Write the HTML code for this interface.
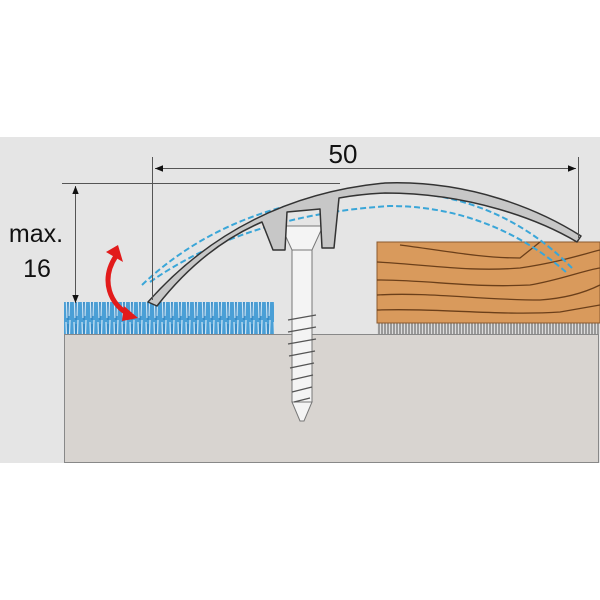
<!DOCTYPE html>
<html><head><style>html,body{margin:0;padding:0;background:#fff}svg{display:block}</style></head>
<body>
<svg width="600" height="600" viewBox="0 0 600 600" xmlns="http://www.w3.org/2000/svg">
<defs>
<pattern id="carpet" width="8" height="32" patternUnits="userSpaceOnUse">
<rect width="8" height="32" fill="#4a9fd6"/>
<path d="M2 2 L3 30 M6 0 L5 28" stroke="#cfe6f5" stroke-width="1.2"/>
<path d="M4 4 L4 32" stroke="#1f6fb0" stroke-width="0.8"/>
</pattern>
<pattern id="under" width="6" height="11" patternUnits="userSpaceOnUse">
<rect width="6" height="11" fill="#ddd"/>
<path d="M1 0 L1 11 M4 0 L4 11" stroke="#555" stroke-width="1"/>
</pattern>
<marker id="ar" viewBox="0 0 10 10" refX="10" refY="5" markerWidth="8" markerHeight="8" orient="auto-start-reverse"><path d="M0 1 L10 5 L0 9Z" fill="#111"/></marker>
</defs>
<rect x="0" y="137" width="600" height="326" fill="#e5e5e5"/>
<rect x="64.5" y="334.5" width="534" height="128" fill="#d8d4d0" stroke="#888" stroke-width="1"/>
<rect x="64" y="302" width="210" height="32" fill="url(#carpet)"/>
<rect x="377" y="323" width="223" height="11" fill="url(#under)"/>
<rect x="377" y="242" width="223" height="81" fill="#d99a5c" stroke="#8a5a30" stroke-width="1"/>
<g fill="none" stroke="#6b3f1a" stroke-width="1.3">
<path d="M400 245 C440 250 480 258 520 258 L540 242"/>
<path d="M377 262 C430 265 470 272 520 268 C560 262 580 255 600 250"/>
<path d="M377 280 C430 280 470 288 530 285 C560 280 585 270 600 268"/>
<path d="M377 295 C430 292 480 300 540 300 C570 298 590 290 600 285"/>
<path d="M377 310 C440 308 500 316 560 312 L600 305"/>
</g>
<!-- screw -->
<g stroke="#777" stroke-width="1" fill="#f4f4f4">
<path d="M281 226 L323 226 L312 250 L292 250Z"/>
<rect x="292" y="250" width="20" height="152"/>
<path d="M292 402 L312 402 L304 421 L300 421Z"/>
</g>
<g stroke="#555" stroke-width="1.3" fill="none">
<path d="M288 320 L316 315 M288 332 L316 327 M288 344 L316 339 M289 356 L315 351 M290 368 L314 363 M291 380 L313 375 M292 392 L312 387 M294 402 L310 398"/>
</g>
<!-- dashed profile -->
<g fill="none" stroke="#3aa6d8" stroke-width="2" stroke-dasharray="6 3">
<path d="M142 285 C200 230 280 195 390 192 C470 192 530 225 572 268"/>
<path d="M150 282 C210 240 290 212 390 206 C470 206 530 240 567 273"/>
</g>
<!-- profile -->
<path d="M148 302 C210 232 290 192 385 183 C470 180 540 210 581 236 L577 242 C540 220 470 193 385 193 C365 194 350 196 339 198 L334 248 L322 248 L320 209 L287 212 L285 250 L273 250 L262 222 C220 240 185 270 157 306 Z" fill="#c7c7c7" stroke="#333" stroke-width="1.5" stroke-linejoin="round"/>
<!-- dimensions -->
<g stroke="#555" stroke-width="1" fill="none">
<path d="M152.5 157 L152.5 300"/>
<path d="M578.5 157 L578.5 238"/>
<path d="M155 168.5 L576 168.5" marker-start="url(#ar)" marker-end="url(#ar)"/>
<path d="M62 183.5 L340 183.5"/>
<path d="M75.5 186 L75.5 303" marker-start="url(#ar)" marker-end="url(#ar)"/>
</g>
<text x="343" y="163" font-family="Liberation Sans, sans-serif" font-size="26" text-anchor="middle" fill="#111">50</text>
<text x="36" y="242" font-family="Liberation Sans, sans-serif" font-size="25" text-anchor="middle" fill="#111">max.</text>
<text x="37" y="277" font-family="Liberation Sans, sans-serif" font-size="25" text-anchor="middle" fill="#111">16</text>
<!-- red arrow -->
<path d="M116 256 C100 280 110 305 130 315" fill="none" stroke="#e21b1b" stroke-width="5"/>
<path d="M106 252 L118 245 L123 262Z" fill="#e21b1b"/>
<path d="M124 306 L138 318 L122 321Z" fill="#e21b1b"/>
</svg>
</body></html>
